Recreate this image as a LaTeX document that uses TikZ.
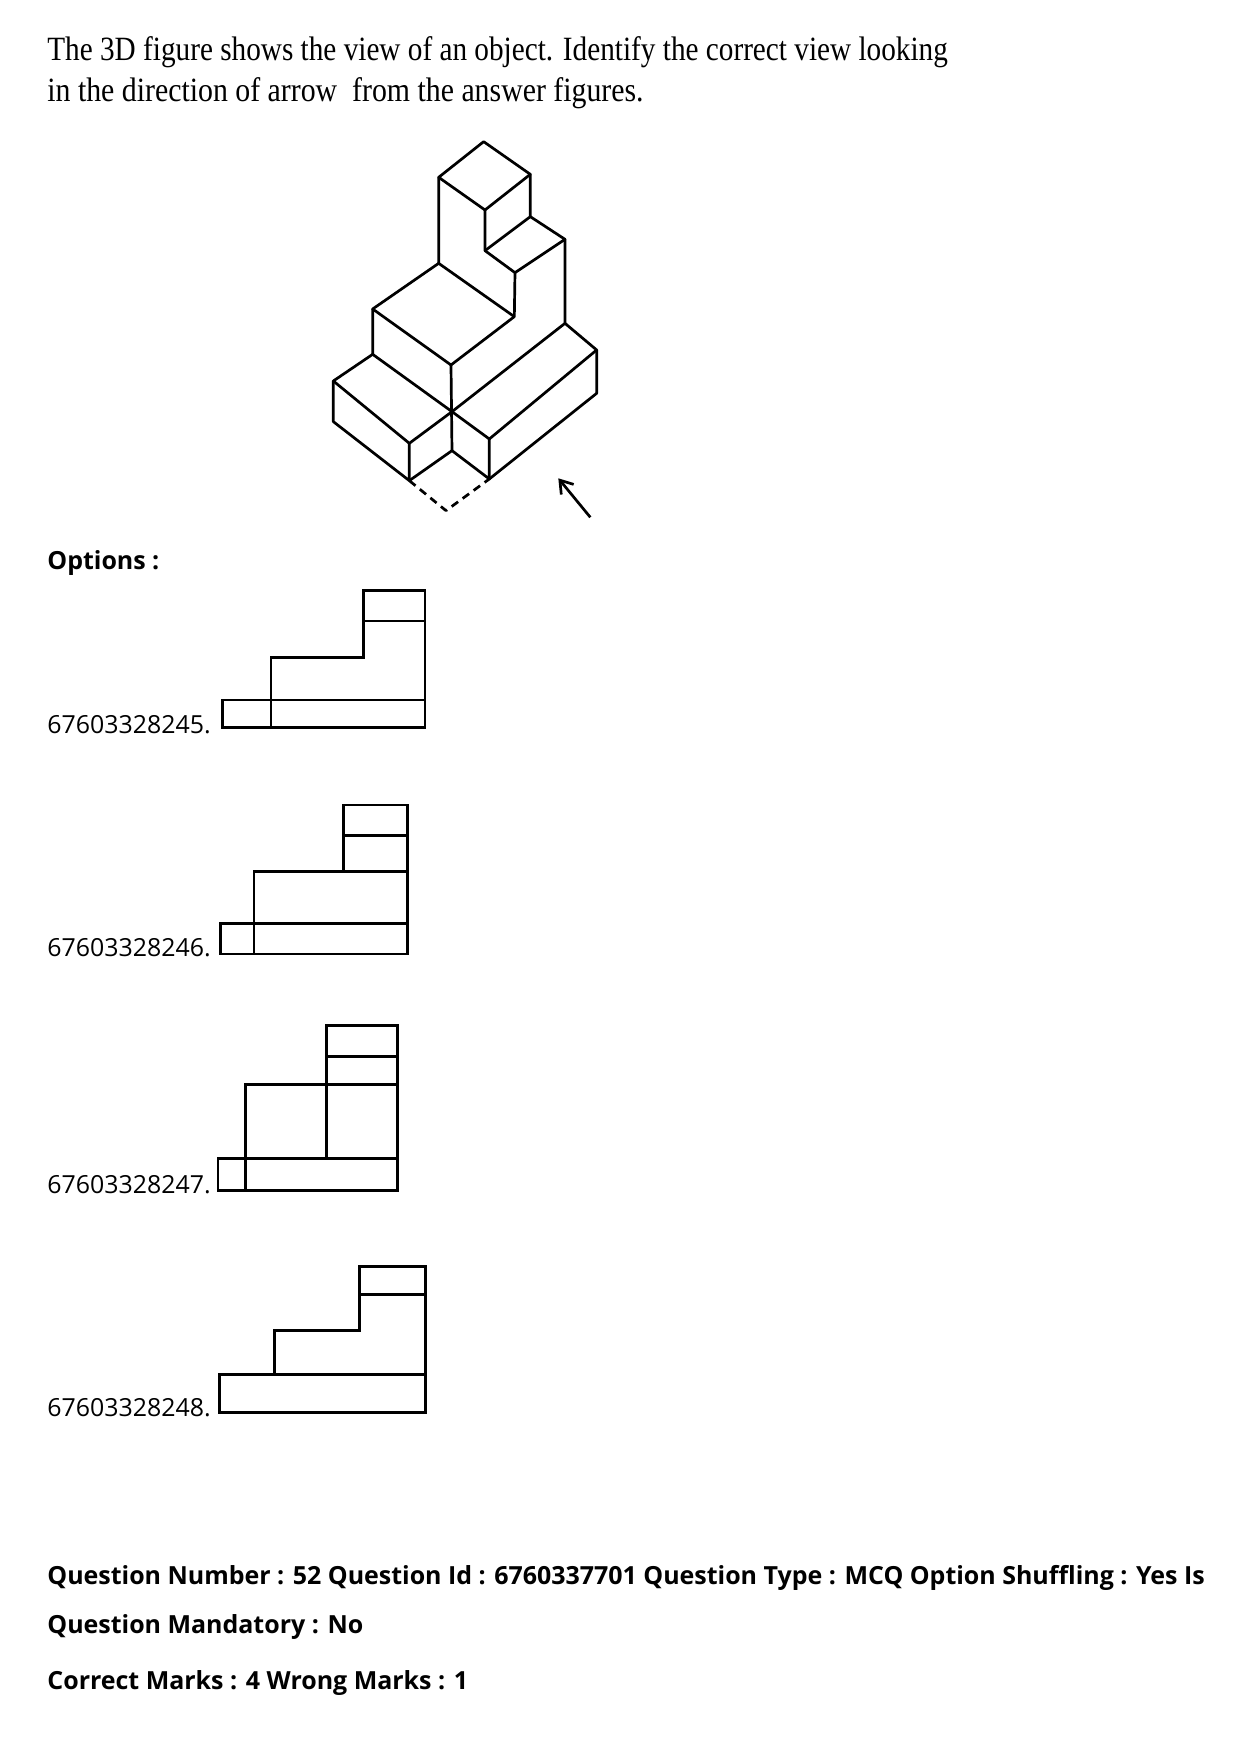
\documentclass[tikz,border=0pt]{standalone}
\usepackage{fontspec}
\usetikzlibrary{arrows.meta}
\setmainfont{Open Sans}
\newfontfamily\titlefont{Liberation Serif}
\tikzset{
    txt/.style={anchor=base west,inner sep=0pt,font=\fontsize{12.45pt}{14pt}\selectfont},
    boldtxt/.style={anchor=base west,inner sep=0pt,font=\fontsize{12.48pt}{14pt}\selectfont\bfseries},
    headtxt/.style={anchor=base west,inner sep=0pt,xscale=.86,font=\titlefont\fontsize{17pt}{20pt}\selectfont},
    obj/.style={line width=1.35pt,line join=round},
    view/.style={line width=1.35pt,line join=miter}
}
\begin{document}
\begin{tikzpicture}[x=.5pt,y=-.5pt]
    \useasboundingbox (0,0) rectangle (1240,1755);
    \node[headtxt] (head1) at (47,61) {The 3D figure shows the view of an object. Identify the correct view looking};
    \node[headtxt,xscale=1.02] (head2) at (47,102) {in the direction of arrow\ \ from the answer figures.};

    % 3D figure
    \begin{scope}[shift={(301,120)},x=.5pt/3,y=-.5pt/3]
        \draw[obj] (413,172) -- (548,65) -- (688,163) -- (552,270) -- cycle;
        \draw[obj] (413,172) -- (413,430) -- (640,590) -- (642,458) -- (552,392) -- (552,270);
        \draw[obj] (688,163) -- (688,290) -- (552,392);
        \draw[obj] (688,290) -- (792,358) -- (642,458);
        \draw[obj] (792,358) -- (792,610) -- (453,875);
        \draw[obj] (413,430) -- (215,567) -- (450,735) -- (640,590);
        \draw[obj] (215,567) -- (215,703) -- (453,875);
        \draw[obj] (450,735) -- (453,992);
        \draw[obj] (215,703) -- (97,783) -- (325,970) -- (453,875) -- (565,957) -- (887,690) -- (792,610);
        \draw[obj] (97,783) -- (97,905) -- (325,1082) -- (325,970);
        \draw[obj] (325,1082) -- (453,992) -- (565,1077) -- (565,957);
        \draw[obj] (565,1077) -- (887,820) -- (887,690);
        \draw[obj,dash pattern=on 4pt off 2.8pt] (325,1082) -- (435,1172) -- (565,1077);
        \draw[obj,-{Straight Barb[length=6pt,width=8pt]}] (868,1192) -- (772,1075);
    \end{scope}

    \node[boldtxt] (opts) at (47,569) {Options :};

    \foreach \nm/\ypos in {5/733.5,6/956.5,7/1193,8/1416}
        \node[txt] (opt\nm) at (47,\ypos) {6760332824\nm.};

    % option one
    \draw[view] (222.7,700) rectangle (425,727.7);
    \draw[view] (271,727.7) -- (271,657.3) -- (363.3,657.3) -- (363.3,590.7) -- (425,590.7) -- (425,700);
    \draw[view] (363.3,621) -- (425,621);
    % option two
    \draw[view] (220.7,923.3) rectangle (407.3,954);
    \draw[view] (254,954) -- (254,871.7) -- (407.3,871.7);
    \draw[view] (343.3,871.7) -- (343.3,805) -- (407.3,805) -- (407.3,923.3);
    \draw[view] (343.3,835.3) -- (407.3,835.3);
    % option three
    \draw[view] (218,1158.7) rectangle (397.3,1190.7);
    \draw[view] (245.3,1190.7) -- (245.3,1084.3) -- (397.3,1084.3);
    \draw[view] (326.3,1158.7) -- (326.3,1025.3) -- (397.3,1025.3) -- (397.3,1158.7);
    \draw[view] (326.3,1056.3) -- (397.3,1056.3);
    % option four
    \draw[view] (219.3,1374.7) rectangle (425.7,1412.3);
    \draw[view] (274.3,1374.7) -- (274.3,1330.3) -- (359.7,1330.3) -- (359.7,1266.7) -- (425.7,1266.7) -- (425.7,1374.7);
    \draw[view] (359.7,1294.7) -- (425.7,1294.7);

    \node[boldtxt] (q1) at (47,1584.5) {Question Number : 52 Question Id : 6760337701 Question Type : MCQ Option Shuffling : Yes Is};
    \node[boldtxt] (q2) at (47,1633.5) {Question Mandatory : No};
    \node[boldtxt] (q3) at (47,1689.5) {Correct Marks : 4 Wrong Marks : 1};
\end{tikzpicture}
\end{document}
